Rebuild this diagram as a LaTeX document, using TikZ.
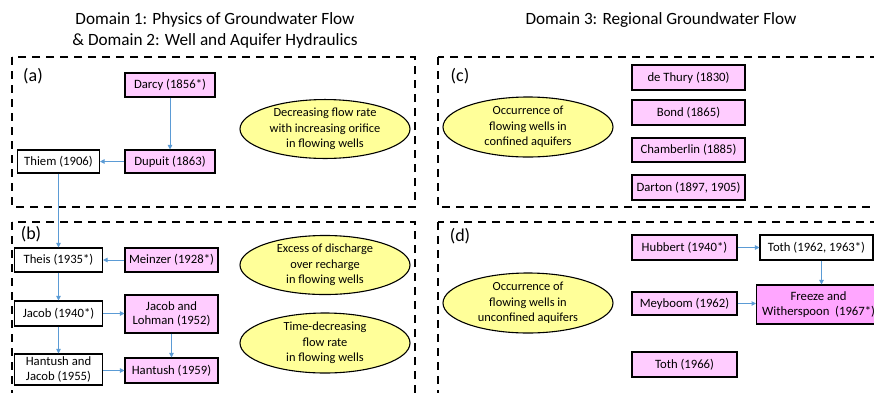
\documentclass[tikz,border=0pt]{standalone}
\usepackage{fontspec}
\setmainfont{Carlito}
\usetikzlibrary{shapes.geometric,arrows.meta}
\definecolor{pinkfill}{HTML}{FFCCFF}
\definecolor{pinkdeep}{HTML}{FFA6FF}
\definecolor{yellowfill}{HTML}{FFFF99}
\definecolor{arrowblue}{HTML}{5B9BD5}
\begin{document}
\begin{tikzpicture}[x=1pt,y=-1pt,
  lit/.style={draw=black,line width=1.1pt,minimum width=#1,inner sep=1pt,font=\fontsize{12.7}{14.5}\selectfont,align=center},
  lit/.default=90pt,
  pbox/.style={lit=#1,fill=pinkfill},
  pbox/.default=90pt,
  wbox/.style={lit=#1,fill=white},
  wbox/.default=88pt,
  topic/.style={ellipse,draw=black,line width=1.1pt,fill=yellowfill,minimum width=170pt,minimum height=#1,inner sep=0pt,align=center,font=\fontsize{12.4}{15.5}\selectfont},
  frame/.style={draw=black,line width=1.8pt,dash pattern=on 8pt off 6pt},
  link/.style={draw=arrowblue,line width=1pt,-{Triangle[length=4.5pt,width=4.5pt]}},
  tag/.style={font=\fontsize{18}{20}\selectfont},
  ttl/.style={font=\fontsize{17.2}{21}\selectfont,align=center}]
\useasboundingbox (0,0) rectangle (874,392);
\clip (0,0) rectangle (874,392);
\fill[white] (0,0) rectangle (874,392);

% titles
\node[ttl] (t1) at (215,30.5) {Domain 1: Physics of Groundwater Flow\\\& Domain 2: Well and Aquifer Hydraulics};
\node[ttl] (t3) at (661,20) {Domain 3: Regional Groundwater Flow};

% frames
\draw[frame] (12,57) rectangle (415,207);
\draw[frame] (12,222) rectangle (415,400);
\draw[frame] (438,57) rectangle (900,207);
\draw[frame] (438,222) rectangle (900,400);

\node[tag] (la) at (33,76) {(a)};
\node[tag] (lb) at (31,234) {(b)};
\node[tag] (lc) at (460,76) {(c)};
\node[tag] (ld) at (460,236) {(d)};

% panel (a)
\node[pbox,minimum height=24pt] (darcy) at (170,85) {Darcy (1856*)};
\node[pbox,minimum height=23pt] (dupuit) at (170,161.5) {Dupuit (1863)};
\node[wbox=82pt,minimum height=23pt] (thiem) at (58.5,161.5) {Thiem (1906)};
\node[topic=58pt] (ea) at (325,129) {Decreasing flow rate\\with increasing orifice\\in flowing wells};

% panel (b)
\node[wbox,minimum height=24pt] (theis) at (58.5,260) {Theis (1935*)};
\node[pbox=93pt,minimum height=24pt] (meinzer) at (171.5,260) {Meinzer (1928*)};
\node[wbox,minimum height=25pt] (jacob) at (58.5,313.5) {Jacob (1940*)};
\node[pbox=93pt,minimum height=38pt] (jl) at (171.5,314) {Jacob and\\Lohman (1952)};
\node[wbox,minimum height=31pt] (hj) at (58.5,369.5) {Hantush and\\Jacob (1955)};
\node[pbox=93pt,minimum height=25pt] (hant) at (171.5,370.5) {Hantush (1959)};
\node[topic=54pt] (eb1) at (325,265) {Excess of discharge\\over recharge\\in flowing wells};
\node[topic=60pt] (eb2) at (325,343) {Time-decreasing\\flow rate\\in flowing wells};

% panel (c)
\node[pbox=113pt,minimum height=25pt] (thury) at (688.5,77.5) {de Thury (1830)};
\node[pbox=113pt,minimum height=25pt] (bond) at (688.5,112.5) {Bond (1865)};
\node[pbox=113pt,minimum height=24pt] (chamb) at (688.5,150) {Chamberlin (1885)};
\node[pbox=113pt,minimum height=25pt] (darton) at (688.5,187.5) {Darton (1897, 1905)};
\node[topic=60pt] (ec) at (528,127) {Occurrence of\\flowing wells in\\confined aquifers};

% panel (d)
\node[pbox=105pt,minimum height=25pt] (hubb) at (684.5,247.5) {Hubbert (1940*)};
\node[wbox=113pt,minimum height=25pt] (toth62) at (816.5,247.5) {Toth (1962, 1963*)};
\node[pbox=105pt,minimum height=23pt] (mey) at (684.5,303.5) {Meyboom (1962)};
\node[lit=124pt,fill=pinkdeep,minimum height=39pt,anchor=west] (freeze) at (756,304.5) {Freeze and\\Witherspoon\ \ (1967*)};
\node[pbox=105pt,minimum height=25pt] (toth66) at (684.5,364.5) {Toth (1966)};
\node[topic=60pt] (ed) at (528,303) {Occurrence of\\flowing wells in\\unconfined aquifers};

% connectors
\draw[link] (darcy) -- (dupuit);
\draw[link] (dupuit) -- (thiem);
\draw[link] (thiem) -- (theis);
\draw[link] (meinzer) -- (theis);
\draw[link] (theis) -- (jacob);
\draw[link] (jacob.east) -- (jacob.east -| jl.west);
\draw[link] (jl) -- (hant);
\draw[link] (jacob) -- (hj);
\draw[link] (hj.east |- hant.west) -- (hant.west);
\draw[link] (hubb) -- (toth62);
\draw[link] ([xshift=5pt]toth62.south) -- ([xshift=5pt]toth62.south |- freeze.north);
\draw[link] (mey.east) -- (mey.east -| freeze.west);
\end{tikzpicture}
\end{document}
